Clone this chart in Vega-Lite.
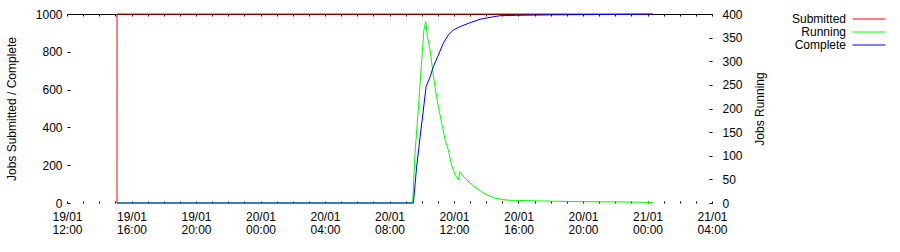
{
  "$schema": "https://vega.github.io/schema/vega-lite/v6.json",
  "width": 645,
  "height": 189,
  "autosize": {"type": "none"},
  "padding": {"left": 67, "top": 14, "right": 188, "bottom": 49},
  "background": "white",
  "config": {
    "view": {"stroke": null},
    "font": "Liberation Sans",
    "axis": {
      "labelFont": "Liberation Sans",
      "titleFont": "Liberation Sans",
      "labelColor": "black",
      "titleColor": "black",
      "tickColor": "black",
      "tickWidth": 1,
      "domain": false,
      "grid": false,
      "titleFontWeight": "normal",
      "labelFontSize": 12,
      "titleFontSize": 12
    },
    "legend": {"labelFont": "Liberation Sans"}
  },
  "data": {
    "values": [
      {"t": "2010-01-19T15:06:00", "series": "Submitted", "value": 0},
      {"t": "2010-01-19T15:06:10", "series": "Submitted", "value": 1000},
      {"t": "2010-01-21T00:20:00", "series": "Submitted", "value": 1000},
      {"t": "2010-01-19T15:06:00", "series": "Running", "value": 0},
      {"t": "2010-01-20T09:26:00", "series": "Running", "value": 0},
      {"t": "2010-01-20T09:35:00", "series": "Running", "value": 105},
      {"t": "2010-01-20T09:47:00", "series": "Running", "value": 197},
      {"t": "2010-01-20T10:00:00", "series": "Running", "value": 303},
      {"t": "2010-01-20T10:08:00", "series": "Running", "value": 366},
      {"t": "2010-01-20T10:15:00", "series": "Running", "value": 384},
      {"t": "2010-01-20T10:21:00", "series": "Running", "value": 352},
      {"t": "2010-01-20T10:31:00", "series": "Running", "value": 324},
      {"t": "2010-01-20T10:39:00", "series": "Running", "value": 288},
      {"t": "2010-01-20T10:49:00", "series": "Running", "value": 246},
      {"t": "2010-01-20T11:02:00", "series": "Running", "value": 204},
      {"t": "2010-01-20T11:14:00", "series": "Running", "value": 169},
      {"t": "2010-01-20T11:27:00", "series": "Running", "value": 133},
      {"t": "2010-01-20T11:39:00", "series": "Running", "value": 112},
      {"t": "2010-01-20T11:51:00", "series": "Running", "value": 80},
      {"t": "2010-01-20T12:04:00", "series": "Running", "value": 59},
      {"t": "2010-01-20T12:16:00", "series": "Running", "value": 49},
      {"t": "2010-01-20T12:22:00", "series": "Running", "value": 66},
      {"t": "2010-01-20T12:41:00", "series": "Running", "value": 52},
      {"t": "2010-01-20T13:00:00", "series": "Running", "value": 42},
      {"t": "2010-01-20T13:24:00", "series": "Running", "value": 31},
      {"t": "2010-01-20T13:55:00", "series": "Running", "value": 19},
      {"t": "2010-01-20T14:33:00", "series": "Running", "value": 10},
      {"t": "2010-01-20T15:16:00", "series": "Running", "value": 6},
      {"t": "2010-01-20T16:30:00", "series": "Running", "value": 5},
      {"t": "2010-01-20T18:00:00", "series": "Running", "value": 4},
      {"t": "2010-01-20T19:30:00", "series": "Running", "value": 3},
      {"t": "2010-01-20T21:00:00", "series": "Running", "value": 2.5},
      {"t": "2010-01-20T23:00:00", "series": "Running", "value": 2},
      {"t": "2010-01-21T00:20:00", "series": "Running", "value": 1},
      {"t": "2010-01-19T15:06:00", "series": "Complete", "value": 0},
      {"t": "2010-01-20T09:29:00", "series": "Complete", "value": 0},
      {"t": "2010-01-20T09:41:00", "series": "Complete", "value": 192},
      {"t": "2010-01-20T09:54:00", "series": "Complete", "value": 351},
      {"t": "2010-01-20T10:06:00", "series": "Complete", "value": 492},
      {"t": "2010-01-20T10:16:00", "series": "Complete", "value": 615},
      {"t": "2010-01-20T10:31:00", "series": "Complete", "value": 668},
      {"t": "2010-01-20T10:43:00", "series": "Complete", "value": 721},
      {"t": "2010-01-20T11:02:00", "series": "Complete", "value": 783},
      {"t": "2010-01-20T11:20:00", "series": "Complete", "value": 845},
      {"t": "2010-01-20T11:39:00", "series": "Complete", "value": 889},
      {"t": "2010-01-20T11:57:00", "series": "Complete", "value": 915},
      {"t": "2010-01-20T12:22:00", "series": "Complete", "value": 933},
      {"t": "2010-01-20T13:00:00", "series": "Complete", "value": 954},
      {"t": "2010-01-20T13:37:00", "series": "Complete", "value": 972},
      {"t": "2010-01-20T14:14:00", "series": "Complete", "value": 982},
      {"t": "2010-01-20T14:51:00", "series": "Complete", "value": 991},
      {"t": "2010-01-20T15:53:00", "series": "Complete", "value": 993},
      {"t": "2010-01-20T18:34:00", "series": "Complete", "value": 996},
      {"t": "2010-01-21T00:20:00", "series": "Complete", "value": 999}
    ]
  },
  "layer": [
    {
      "transform": [{"filter": "datum.series === 'Submitted'"}],
      "mark": {"type": "line", "strokeWidth": 1},
      "encoding": {
        "x": {
          "field": "t", "type": "temporal",
          "scale": {"domain": [{"year": 2010, "month": 1, "date": 19, "hours": 12}, {"year": 2010, "month": 1, "date": 21, "hours": 4}]},
          "axis": {
            "orient": "bottom", "title": null,
            "tickCount": 40,
            "tickSize": -2,
            "labelPadding": 10,
            "labelExpr": "hours(datum.value) % 4 == 0 ? [timeFormat(datum.value, '%d/%m'), timeFormat(datum.value, '%H:%M')] : ''",
            "labelOverlap": false,
            "labelFlush": false,
            "labelLineHeight": 13,
            "labelBaseline": "top",
            "labelAlign": "center"
          }
        },
        "y": {
          "field": "value", "type": "quantitative",
          "scale": {"domain": [0, 1000], "nice": false, "zero": true},
          "axis": {
            "orient": "left", "title": "Jobs Submitted / Complete",
            "values": [0, 200, 400, 600, 800, 1000], "format": "d",
            "tickSize": -3, "labelPadding": 8, "titlePadding": 17,
            "labelFlush": false
          }
        },
        "color": {
          "field": "series", "type": "nominal",
          "scale": {"domain": ["Submitted", "Running", "Complete"], "range": ["#ff0000", "#00ff00", "#0000ff"]},
          "legend": {
            "orient": "none", "legendX": 796, "legendY": -1,
            "title": null, "padding": 0,
            "symbolType": "M-3,0H3", "symbolSize": 121, "symbolStrokeWidth": 1,
            "labelAlign": "right", "labelOffset": -29,
            "labelFontSize": 12, "labelColor": "black",
            "rowPadding": 1
          }
        }
      }
    },
    {
      "transform": [{"filter": "datum.series === 'Running'"}],
      "mark": {"type": "line", "strokeWidth": 1},
      "encoding": {
        "x": {
          "field": "t", "type": "temporal",
          "axis": {
            "orient": "top", "title": null, "labels": false,
            "tickCount": 40,
            "tickSize": -2,
            "domain": true, "domainColor": "black", "domainWidth": 1
          }
        },
        "y": {
          "field": "value", "type": "quantitative",
          "scale": {"domain": [0, 400], "nice": false, "zero": true},
          "axis": {
            "orient": "right", "title": "Jobs Running", "titleAngle": 270,
            "values": [0, 50, 100, 150, 200, 250, 300, 350, 400],
            "tickSize": -3, "labelPadding": 13, "labelAlign": "left", "titlePadding": 24,
            "labelFlush": false
          }
        },
        "color": {"field": "series", "type": "nominal"}
      }
    },
    {
      "transform": [{"filter": "datum.series === 'Complete'"}],
      "mark": {"type": "line", "strokeWidth": 1},
      "encoding": {
        "x": {"field": "t", "type": "temporal", "axis": null},
        "y": {
          "field": "value", "type": "quantitative",
          "scale": {"domain": [0, 1000], "nice": false, "zero": true},
          "axis": null
        },
        "color": {"field": "series", "type": "nominal"}
      }
    }
  ],
  "resolve": {"scale": {"y": "independent"}, "axis": {"x": "independent", "y": "independent"}}
}
